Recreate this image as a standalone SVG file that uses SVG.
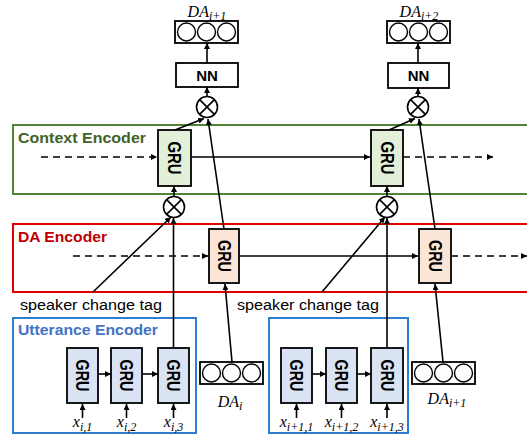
<svg xmlns="http://www.w3.org/2000/svg" width="527" height="436" viewBox="0 0 527 436">
<defs>
<marker id="ah" viewBox="0 0 10 10" refX="10" refY="5" markerWidth="6" markerHeight="6" markerUnits="userSpaceOnUse" orient="auto">
<path d="M0,0 L10,5 L0,10 z" fill="#000"/>
</marker>
<g id="otimes">
<circle cx="0" cy="0" r="10.5" fill="#fff" stroke="#000" stroke-width="1.6"/>
<path d="M-7.4,-7.4 L7.4,7.4 M7.4,-7.4 L-7.4,7.4" stroke="#000" stroke-width="1.6"/>
</g>
<g id="dabox">
<rect x="0" y="0" width="63" height="22" fill="#fff" stroke="#000" stroke-width="1.8"/>
<circle cx="11.5" cy="11" r="9" fill="#fff" stroke="#000" stroke-width="1.4"/>
<circle cx="31.5" cy="11" r="9" fill="#fff" stroke="#000" stroke-width="1.4"/>
<circle cx="51.5" cy="11" r="9" fill="#fff" stroke="#000" stroke-width="1.4"/>
</g>
</defs>
<style>
.gru{stroke:#000;stroke-width:1.8}
.cg{fill:#e2f0d9}
.dg{fill:#fbe5d6}
.ug{fill:#dae3f3}
.gt{font-family:"Liberation Sans",Arial,sans-serif;font-weight:bold;font-size:18px;fill:#000}
.nt{font-family:"Liberation Sans",Arial,sans-serif;font-weight:bold;font-size:15px;fill:#000}
.lbl{font-family:"Liberation Sans",Arial,sans-serif;font-weight:bold;font-size:15px}
.tag{font-family:"Liberation Sans",Arial,sans-serif;font-size:14px;fill:#000}
.m{font-family:"Liberation Serif","Times New Roman",serif;font-style:italic;font-size:16px;fill:#000}
.s{font-size:12px}
.c{stroke:#000;stroke-width:1.6;fill:none}
.d{stroke:#000;stroke-width:1.6;fill:none;stroke-dasharray:7,5}
</style>
<rect width="527" height="436" fill="#fff"/>

<g id="context-encoder">
<rect x="13" y="125" width="530" height="69" fill="none" stroke="#548235" stroke-width="2"/>
<text x="18" y="143" class="lbl" fill="#3f6327" textLength="128" lengthAdjust="spacingAndGlyphs">Context Encoder</text>
</g>
<g id="da-encoder">
<rect x="13" y="224" width="530" height="68" fill="none" stroke="#e00000" stroke-width="2"/>
<text x="18" y="242" class="lbl" fill="#c00000" textLength="89" lengthAdjust="spacingAndGlyphs">DA Encoder</text>
</g>
<g id="utterance-encoder-1">
<rect x="13" y="318" width="183" height="115" fill="none" stroke="#2e7fd0" stroke-width="2"/>
<text x="18" y="335" class="lbl" fill="#4472c4" textLength="140" lengthAdjust="spacingAndGlyphs">Utterance Encoder</text>
</g>
<g id="utterance-encoder-2">
<rect x="269" y="318" width="139" height="115" fill="none" stroke="#2e7fd0" stroke-width="2"/>
</g>

<g id="connectors">
<line class="d" x1="41" y1="157" x2="157" y2="157" marker-end="url(#ah)"/>
<line class="c" x1="191" y1="157" x2="370" y2="157" marker-end="url(#ah)"/>
<line class="d" x1="403" y1="157" x2="493" y2="157" marker-end="url(#ah)"/>
<line class="d" x1="73" y1="256" x2="208" y2="256" marker-end="url(#ah)"/>
<line class="c" x1="239" y1="256" x2="418" y2="256" marker-end="url(#ah)"/>
<line class="d" x1="451" y1="256" x2="527" y2="256" marker-end="url(#ah)"/>

<line class="c" x1="175" y1="130" x2="204" y2="118.5" marker-end="url(#ah)"/>
<line class="c" x1="224" y1="229" x2="208" y2="119" marker-end="url(#ah)"/>
<line class="c" x1="207" y1="96" x2="207" y2="87" marker-end="url(#ah)"/>
<line class="c" x1="207" y1="63" x2="207" y2="43" marker-end="url(#ah)"/>
<line class="c" x1="174" y1="196" x2="174" y2="186" marker-end="url(#ah)"/>
<line class="c" x1="173.5" y1="348" x2="173.5" y2="218" marker-end="url(#ah)"/>
<line class="c" x1="93" y1="292" x2="171" y2="217" marker-end="url(#ah)"/>
<line class="c" x1="232" y1="362" x2="225" y2="284" marker-end="url(#ah)"/>

<line class="c" x1="389" y1="130" x2="415" y2="118.5" marker-end="url(#ah)"/>
<line class="c" x1="435" y1="229" x2="419" y2="119" marker-end="url(#ah)"/>
<line class="c" x1="418" y1="96" x2="418" y2="88" marker-end="url(#ah)"/>
<line class="c" x1="418" y1="63" x2="418" y2="43" marker-end="url(#ah)"/>
<line class="c" x1="387" y1="196" x2="387" y2="186" marker-end="url(#ah)"/>
<line class="c" x1="387" y1="348" x2="387" y2="218" marker-end="url(#ah)"/>
<line class="c" x1="322" y1="292" x2="385" y2="217" marker-end="url(#ah)"/>
<line class="c" x1="443" y1="362" x2="435" y2="284" marker-end="url(#ah)"/>

<line class="c" x1="98" y1="374" x2="111" y2="374" marker-end="url(#ah)"/>
<line class="c" x1="142" y1="374" x2="158" y2="374" marker-end="url(#ah)"/>
<line class="c" x1="312" y1="374" x2="326" y2="374" marker-end="url(#ah)"/>
<line class="c" x1="357" y1="374" x2="371" y2="374" marker-end="url(#ah)"/>

<line class="c" x1="82.5" y1="418" x2="82.5" y2="404" marker-end="url(#ah)"/>
<line class="c" x1="126.5" y1="418" x2="126.5" y2="404" marker-end="url(#ah)"/>
<line class="c" x1="173.5" y1="418" x2="173.5" y2="404" marker-end="url(#ah)"/>
<line class="c" x1="296.5" y1="418" x2="296.5" y2="404" marker-end="url(#ah)"/>
<line class="c" x1="341.5" y1="418" x2="341.5" y2="404" marker-end="url(#ah)"/>
<line class="c" x1="387" y1="418" x2="387" y2="404" marker-end="url(#ah)"/>
</g>

<g id="ctx-gru-1"><rect class="gru cg" x="158" y="130" width="33" height="56"/><text class="gt" transform="translate(174.5,158) rotate(90)" text-anchor="middle" dy="6.5" textLength="33" lengthAdjust="spacingAndGlyphs">GRU</text></g>
<g id="ctx-gru-2"><rect class="gru cg" x="371" y="130" width="32" height="56"/><text class="gt" transform="translate(387,158) rotate(90)" text-anchor="middle" dy="6.5" textLength="33" lengthAdjust="spacingAndGlyphs">GRU</text></g>

<g id="da-gru-1"><rect class="gru dg" x="209" y="229" width="30" height="54"/><text class="gt" transform="translate(224,256) rotate(90)" text-anchor="middle" dy="6.5" textLength="32" lengthAdjust="spacingAndGlyphs">GRU</text></g>
<g id="da-gru-2"><rect class="gru dg" x="419" y="229" width="32" height="54"/><text class="gt" transform="translate(435,256) rotate(90)" text-anchor="middle" dy="6.5" textLength="32" lengthAdjust="spacingAndGlyphs">GRU</text></g>

<g id="utt-gru-1-1"><rect class="gru ug" x="67" y="348" width="31" height="55"/><text class="gt" transform="translate(82.5,375.5) rotate(90)" text-anchor="middle" dy="6.5" textLength="32" lengthAdjust="spacingAndGlyphs">GRU</text></g>
<g id="utt-gru-1-2"><rect class="gru ug" x="111" y="348" width="31" height="55"/><text class="gt" transform="translate(126.5,375.5) rotate(90)" text-anchor="middle" dy="6.5" textLength="32" lengthAdjust="spacingAndGlyphs">GRU</text></g>
<g id="utt-gru-1-3"><rect class="gru ug" x="158" y="348" width="31" height="55"/><text class="gt" transform="translate(173.5,375.5) rotate(90)" text-anchor="middle" dy="6.5" textLength="32" lengthAdjust="spacingAndGlyphs">GRU</text></g>
<g id="utt-gru-2-1"><rect class="gru ug" x="281" y="348" width="31" height="55"/><text class="gt" transform="translate(296.5,375.5) rotate(90)" text-anchor="middle" dy="6.5" textLength="32" lengthAdjust="spacingAndGlyphs">GRU</text></g>
<g id="utt-gru-2-2"><rect class="gru ug" x="326" y="348" width="31" height="55"/><text class="gt" transform="translate(341.5,375.5) rotate(90)" text-anchor="middle" dy="6.5" textLength="32" lengthAdjust="spacingAndGlyphs">GRU</text></g>
<g id="utt-gru-2-3"><rect class="gru ug" x="371" y="348" width="32" height="55"/><text class="gt" transform="translate(387,375.5) rotate(90)" text-anchor="middle" dy="6.5" textLength="32" lengthAdjust="spacingAndGlyphs">GRU</text></g>

<g id="mul-top-1"><use href="#otimes" x="207" y="107"/></g>
<g id="mul-low-1"><use href="#otimes" x="174" y="207"/></g>
<g id="mul-top-2"><use href="#otimes" x="418" y="107"/></g>
<g id="mul-low-2"><use href="#otimes" x="387" y="207"/></g>

<g id="nn-1"><rect x="176" y="63" width="62" height="24" fill="#fff" stroke="#000" stroke-width="1.8"/><text class="nt" x="207" y="80.5" text-anchor="middle">NN</text></g>
<g id="nn-2"><rect x="388" y="63" width="61" height="25" fill="#fff" stroke="#000" stroke-width="1.8"/><text class="nt" x="418.5" y="81" text-anchor="middle">NN</text></g>

<g id="da-out-1"><use href="#dabox" x="175" y="21"/><text class="m" x="207" y="17" text-anchor="middle">DA<tspan class="s" dy="3">i+1</tspan></text></g>
<g id="da-out-2"><use href="#dabox" x="387" y="21"/><text class="m" x="419" y="17" text-anchor="middle">DA<tspan class="s" dy="3">i+2</tspan></text></g>
<g id="da-in-1"><use href="#dabox" x="200" y="362"/><text class="m" x="230" y="407" text-anchor="middle">DA<tspan class="s" dy="3">i</tspan></text></g>
<g id="da-in-2"><use href="#dabox" x="412" y="362"/><text class="m" x="447" y="404" text-anchor="middle">DA<tspan class="s" dy="3">i+1</tspan></text></g>

<text class="tag" x="20" y="310" textLength="142" lengthAdjust="spacingAndGlyphs">speaker change tag</text>
<text class="tag" x="237" y="310" textLength="142" lengthAdjust="spacingAndGlyphs">speaker change tag</text>

<g id="inputs">
<text class="m" x="82.5" y="427" text-anchor="middle">x<tspan class="s" dy="4">i,1</tspan></text>
<text class="m" x="126.5" y="427" text-anchor="middle">x<tspan class="s" dy="4">i,2</tspan></text>
<text class="m" x="173.5" y="427" text-anchor="middle">x<tspan class="s" dy="4">i,3</tspan></text>
<text class="m" x="296.5" y="427" text-anchor="middle">x<tspan class="s" dy="4">i+1,1</tspan></text>
<text class="m" x="341.5" y="427" text-anchor="middle">x<tspan class="s" dy="4">i+1,2</tspan></text>
<text class="m" x="387" y="427" text-anchor="middle">x<tspan class="s" dy="4">i+1,3</tspan></text>
</g>
</svg>
